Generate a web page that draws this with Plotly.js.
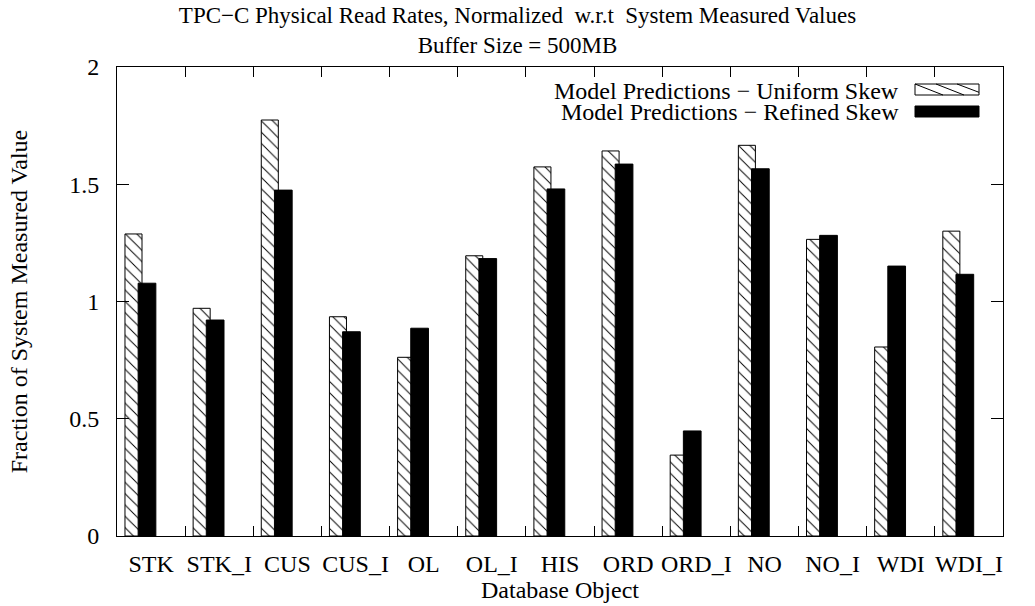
<!DOCTYPE html>
<html>
<head>
<meta charset="utf-8">
<script src="https://cdn.plot.ly/plotly-3.0.1.min.js"></script>
<style>html,body{margin:0;padding:0;background:#fff;}#chart{width:1035px;height:606px;}</style>
</head>
<body>
<div id="chart"></div>
<script>
const categories = ['STK','STK_I','CUS','CUS_I','OL','OL_I','HIS','ORD','ORD_I','NO','NO_I','WDI','WDI_I'];
const uniformSkew = [1.288, 0.971, 1.774, 0.935, 0.762, 1.195, 1.574, 1.642, 0.345, 1.666, 1.265, 0.806, 1.300];
const refinedSkew = [1.078, 0.921, 1.475, 0.871, 0.886, 1.183, 1.480, 1.586, 0.448, 1.566, 1.282, 1.151, 1.116];
const seriesNames = ['Model Predictions \u2212 Uniform Skew', 'Model Predictions \u2212 Refined Skew'];
const yTickVals = [0, 0.5, 1, 1.5, 2];
const yTickText = ['0', '0.5', '1', '1.5', '2'];

const FONT = 'Liberation Serif, Times New Roman, serif';
const FS = 24;
const W = 1035, H = 606;
const M = {l: 117, r: 32, t: 67, b: 70};
const PW = W - M.l - M.r, PH = H - M.t - M.b;
const px = x => (x - M.l) / PW;
const py = y => (M.t + PH - y) / PH;

const traces = [
  {
    type: 'bar', name: seriesNames[0], x: categories, y: uniformSkew,
    offset: -0.383, width: 0.25,
    marker: {color: '#fff', line: {color: '#000', width: 1},
             pattern: {shape: '\\', fgcolor: '#000', bgcolor: '#fff', size: 8, solidity: 0.12}},
    showlegend: false
  },
  {
    type: 'bar', name: seriesNames[1], x: categories, y: refinedSkew,
    offset: -0.19, width: 0.26,
    marker: {color: '#000', line: {color: '#000', width: 1}},
    showlegend: false
  }
];

// legend drawn as right-aligned text with samples to the right (gnuplot style)
const lg = [{yc: 90.5, y0: 84, y1: 95}, {yc: 111.5, y0: 106, y1: 117}];
const sx0 = 915, sx1 = 979;
const shapes = [
  {type: 'rect', xref: 'paper', yref: 'paper', x0: px(sx0), x1: px(sx1), y0: py(lg[0].y1), y1: py(lg[0].y0),
   fillcolor: '#fff', line: {color: '#000', width: 1}},
  {type: 'line', xref: 'paper', yref: 'paper', x0: px(sx0), y0: py(lg[0].y0), x1: px(sx0 + 28), y1: py(lg[0].y1), line: {color: '#000', width: 1}},
  {type: 'line', xref: 'paper', yref: 'paper', x0: px(sx0 + 21), y0: py(lg[0].y0), x1: px(sx0 + 49), y1: py(lg[0].y1), line: {color: '#000', width: 1}},
  {type: 'line', xref: 'paper', yref: 'paper', x0: px(sx0 + 42), y0: py(lg[0].y0), x1: px(sx1), y1: py(lg[0].y0 + 8.3), line: {color: '#000', width: 1}},
  {type: 'rect', xref: 'paper', yref: 'paper', x0: px(sx0), x1: px(sx1), y0: py(lg[1].y1), y1: py(lg[1].y0),
   fillcolor: '#000', line: {color: '#000', width: 1}}
];
const annotations = seriesNames.map((n, i) => ({
  text: n, xref: 'paper', yref: 'paper', x: px(901), y: py(lg[i].yc),
  xanchor: 'right', yanchor: 'middle', showarrow: false,
  font: {family: FONT, size: FS, color: '#000'}
}));

const layout = {
  width: W, height: H,
  margin: M,
  paper_bgcolor: '#fff', plot_bgcolor: '#fff',
  barmode: 'overlay',
  font: {family: FONT, size: FS, color: '#000'},
  title: {
    text: 'TPC\u2212C Physical Read Rates, Normalized\u00a0\u00a0w.r.t\u00a0\u00a0System Measured Values<br>Buffer Size = 500MB',
    x: 0.5, xref: 'container', xanchor: 'center',
    y: 0.962, yref: 'container', yanchor: 'top',
    font: {family: FONT, size: 23, color: '#000'}
  },
  xaxis: {
    type: 'category', range: [-0.5, 12.5],
    tickson: 'boundaries', ticks: 'inside', ticklen: 10, tickcolor: '#000', tickwidth: 1,
    showline: true, linecolor: '#000', linewidth: 1, mirror: 'ticks',
    showgrid: false, zeroline: false,
    tickangle: 0,
    ticklabelstandoff: 6,
    tickfont: {family: FONT, size: FS, color: '#000'},
    title: {text: 'Database Object', standoff: 0, font: {family: FONT, size: FS, color: '#000'}}
  },
  yaxis: {
    range: [0, 2], tickvals: yTickVals, ticktext: yTickText,
    ticks: 'inside', ticklen: 12, tickcolor: '#000', tickwidth: 1,
    showline: true, linecolor: '#000', linewidth: 1, mirror: 'ticks',
    showgrid: false, zeroline: false,
    ticklabelstandoff: 12,
    tickfont: {family: FONT, size: FS, color: '#000'},
    title: {text: 'Fraction of System Measured Value', standoff: 34, font: {family: FONT, size: FS, color: '#000'}}
  },
  shapes: shapes,
  annotations: annotations
};

Plotly.newPlot('chart', traces, layout, {displayModeBar: false, staticPlot: true});
</script>
</body>
</html>
